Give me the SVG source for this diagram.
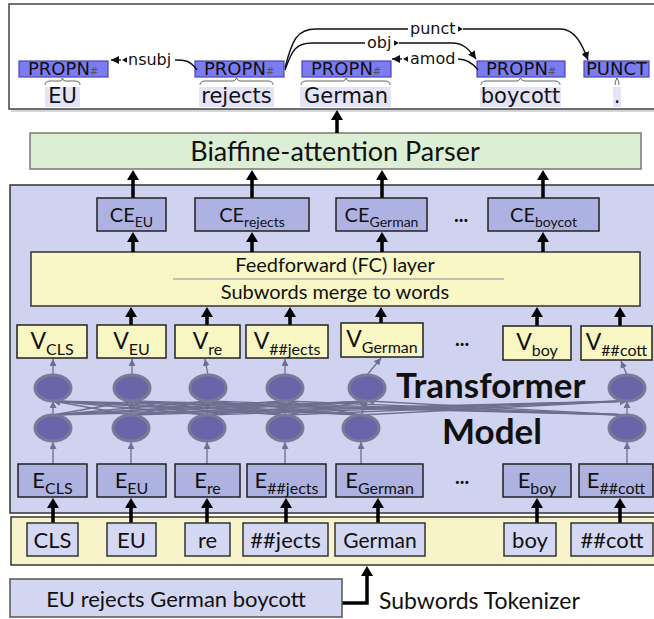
<svg xmlns="http://www.w3.org/2000/svg" width="654" height="619" viewBox="0 0 654 619">
<style>
.lato{font-family:Lato,"Open Sans","Liberation Sans",sans-serif;fill:#111}
.dj{font-family:"DejaVu Sans","Liberation Sans",sans-serif;fill:#111}
.pos{fill:#7c7cf2;stroke:#4646b4;stroke-width:1.2}
.hl{fill:#e4e4f8}
.brace{fill:none;stroke:#555;stroke-width:0.9}
.arc{fill:none;stroke:#111;stroke-width:1.4}
.ce{fill:#aeb2e3;stroke:#222;stroke-width:1.5}
.vb{fill:#f8f6c3;stroke:#222;stroke-width:1.5}
.eb{fill:#aeb2e0;stroke:#222;stroke-width:1.5}
.tk{fill:#d5d8f2;stroke:#333;stroke-width:1.5}
.thick{fill:none;stroke:#000;stroke-width:3.5}
.thin{fill:none;stroke:#6e6e90;stroke-width:1.3}
.nd{fill:#6865a8;stroke:#7a7a98;stroke-width:3}
</style>
<defs>
<marker id="big" markerUnits="userSpaceOnUse" markerWidth="12" markerHeight="12" viewBox="0 0 10 12" refX="0" refY="6" orient="auto"><path d="M0,0 L10,6 L0,12 z" fill="#000"/></marker>
<marker id="sm" markerUnits="userSpaceOnUse" markerWidth="8" markerHeight="8" viewBox="0 0 8 8" refX="8" refY="4" orient="auto"><path d="M0,0 L8,4 L0,8 z" fill="#111"/></marker>
<marker id="gr" markerUnits="userSpaceOnUse" markerWidth="7" markerHeight="7" viewBox="0 0 7 7" refX="7" refY="3.5" orient="auto"><path d="M0,0 L7,3.5 L0,7 z" fill="#6e6e90"/></marker>
</defs>

<!-- top dependency panel -->
<g id="parse-panel">
<rect x="11" y="7" width="660" height="105" fill="#bbb" opacity="0.6"/>
<rect x="9" y="4" width="660" height="105" fill="#fff" stroke="#444" stroke-width="1.5"/>
</g>
<g id="tok-EU">
<rect class="pos" x="19" y="61" width="89" height="16"/>
<text class="dj" x="28" y="75" font-size="18" fill="#1a1a40">PROPN<tspan font-size="10" fill="#555" font-style="italic">#</tspan></text>
<path class="brace" d="M45,85 Q45,81 50,81 L60,81 Q62,81 62.5,78 Q63,81 65,81 L75,81 Q80,81 80,85"/>
<rect class="hl" x="45" y="87" width="35" height="20"/>
<text class="dj" x="62.5" y="103" font-size="21" text-anchor="middle">EU</text>
</g>
<g id="tok-rejects">
<rect class="pos" x="195" y="61" width="89" height="16"/>
<text class="dj" x="204" y="75" font-size="18" fill="#1a1a40">PROPN<tspan font-size="10" fill="#555" font-style="italic">#</tspan></text>
<path class="brace" d="M200,85 Q200,81 205,81 L233,81 Q235,81 236.5,78 Q238,81 240,81 L268,81 Q273,81 273,85"/>
<rect class="hl" x="199" y="87" width="75" height="20"/>
<text class="dj" x="236.5" y="103" font-size="21" text-anchor="middle">rejects</text>
</g>
<g id="tok-German">
<rect class="pos" x="302" y="61" width="89" height="16"/>
<text class="dj" x="311" y="75" font-size="18" fill="#1a1a40">PROPN<tspan font-size="10" fill="#555" font-style="italic">#</tspan></text>
<path class="brace" d="M301,85 Q301,81 306,81 L343,81 Q345,81 346,78 Q347,81 349,81 L385,81 Q390,81 390,85"/>
<rect class="hl" x="300" y="87" width="91" height="20"/>
<text class="dj" x="346" y="103" font-size="21" text-anchor="middle">German</text>
</g>
<g id="tok-boycott">
<rect class="pos" x="477" y="61" width="88" height="16"/>
<text class="dj" x="486" y="75" font-size="18" fill="#1a1a40">PROPN<tspan font-size="10" fill="#555" font-style="italic">#</tspan></text>
<path class="brace" d="M481,85 Q481,81 486,81 L517,81 Q519,81 520.5,78 Q522,81 524,81 L555,81 Q560,81 560,85"/>
<rect class="hl" x="480" y="87" width="81" height="20"/>
<text class="dj" x="520.5" y="103" font-size="21" text-anchor="middle">boycott</text>
</g>
<g id="tok-punct">
<rect class="pos" x="584" y="61" width="65" height="16"/>
<text class="dj" x="616.5" y="75" font-size="18" fill="#1a1a40" text-anchor="middle">PUNCT</text>
<path class="brace" d="M615,85 Q615,81 617,78 Q619,81 619,85"/>
<rect class="hl" x="613" y="87" width="8" height="20"/>
<text class="dj" x="617" y="103" font-size="21" text-anchor="middle">.</text>
</g>

<g id="arcs">
<path class="arc" d="M197,70 C190,60 184,60 175,60"/>
<text class="dj" x="128" y="65" font-size="16">nsubj</text>
<polygon points="122,60 127,57.3 127,62.7" fill="#111"/>
<path class="arc" d="M121,60 L111,60" marker-end="url(#sm)"/>

<path class="arc" d="M285,70 C292,50 296,43 312,43 L365,43"/>
<text class="dj" x="367" y="48" font-size="16">obj</text>
<polygon points="394,40.3 399,43 394,45.7" fill="#111"/>
<path class="arc" d="M399,43 L452,43 C463,43 469,49 476,59" marker-end="url(#sm)"/>

<path class="arc" d="M285,68 C292,40 297,29 316,29 L408,29"/>
<text class="dj" x="410" y="34" font-size="16">punct</text>
<polygon points="458,26.3 463,29 458,31.7" fill="#111"/>
<path class="arc" d="M463,29 L560,29 C575,29 582,44 588,60" marker-end="url(#sm)"/>

<path class="arc" d="M478,70 C472,62 466,59 458,59"/>
<text class="dj" x="410" y="64" font-size="16">amod</text>
<polygon points="403,59 408,56.3 408,61.7" fill="#111"/>
<path class="arc" d="M402,59 L392,59" marker-end="url(#sm)"/>
</g>

<!-- main panels -->
<g id="biaffine">
<rect x="30" y="133" width="611" height="36" fill="#dcefd5" stroke="#777" stroke-width="1.5"/>
<text class="lato" x="335" y="161" font-size="27" text-anchor="middle">Biaffine-attention Parser</text>
</g>
<g id="transformer-panel">
<rect x="10" y="185" width="660" height="328" fill="#cfd3ef" stroke="#333" stroke-width="1.5"/>
<text class="lato" x="396" y="398" font-size="35" font-weight="bold" fill="#000">Transformer</text>
<text class="lato" x="442" y="444" font-size="35" font-weight="bold" fill="#000">Model</text>
</g>
<g id="token-band">
<rect x="11" y="517" width="660" height="48" fill="#f7f4c9" stroke="#333" stroke-width="1.5"/>
</g>
<g id="fc-layer">
<rect x="31" y="252" width="609" height="54" fill="#f9f7c6" stroke="#333" stroke-width="1.5"/>
<text class="lato" x="335" y="272" font-size="20" text-anchor="middle">Feedforward (FC) layer</text>
<line x1="173" y1="279" x2="504" y2="279" stroke="#8a8aa8" stroke-width="1"/>
<text class="lato" x="335" y="299" font-size="20" text-anchor="middle">Subwords merge to words</text>
</g>

<!-- connectors -->
<g id="connectors">
<path class="thick" d="M337,133 V120" marker-end="url(#big)"/>
<path class="thick" d="M133,198 V180" marker-end="url(#big)"/>
<path class="thick" d="M252,198 V180" marker-end="url(#big)"/>
<path class="thick" d="M382,198 V180" marker-end="url(#big)"/>
<path class="thick" d="M543,198 V180" marker-end="url(#big)"/>
<path class="thick" d="M133,252 V242" marker-end="url(#big)"/>
<path class="thick" d="M252,252 V242" marker-end="url(#big)"/>
<path class="thick" d="M382,252 V242" marker-end="url(#big)"/>
<path class="thick" d="M543,252 V242" marker-end="url(#big)"/>
<path class="thick" d="M131,325 V317" marker-end="url(#big)"/>
<path class="thick" d="M207,325 V317" marker-end="url(#big)"/>
<path class="thick" d="M290,325 V317" marker-end="url(#big)"/>
<path class="thick" d="M381,323 V317" marker-end="url(#big)"/>
<path class="thick" d="M537,326 V317" marker-end="url(#big)"/>
<path class="thick" d="M620,326 V317" marker-end="url(#big)"/>
<path class="thick" d="M53,523 V508" marker-end="url(#big)"/>
<path class="thick" d="M131,523 V508" marker-end="url(#big)"/>
<path class="thick" d="M207,523 V508" marker-end="url(#big)"/>
<path class="thick" d="M286,523 V508" marker-end="url(#big)"/>
<path class="thick" d="M378,523 V508" marker-end="url(#big)"/>
<path class="thick" d="M537,523 V508" marker-end="url(#big)"/>
<path class="thick" d="M620,523 V508" marker-end="url(#big)"/>
<path class="thick" d="M342,603 H367 V576" marker-end="url(#big)"/>

<!-- thin transformer arrows -->
<path class="thin" d="M53,464 V442" marker-end="url(#gr)"/>
<path class="thin" d="M131,464 V442" marker-end="url(#gr)"/>
<path class="thin" d="M207,464 V442" marker-end="url(#gr)"/>
<path class="thin" d="M285,464 V442" marker-end="url(#gr)"/>
<path class="thin" d="M361,464 V442" marker-end="url(#gr)"/>
<path class="thin" d="M627,464 V442" marker-end="url(#gr)"/>
<path class="thin" d="M53,375 V359" marker-end="url(#gr)"/>
<path class="thin" d="M132,375 V359" marker-end="url(#gr)"/>
<path class="thin" d="M208,375 L205,359" marker-end="url(#gr)"/>
<path class="thin" d="M285,375 V359" marker-end="url(#gr)"/>
<path class="thin" d="M367,375 L381,358" marker-end="url(#gr)"/>
<path class="thin" d="M627,375 L621,361" marker-end="url(#gr)"/>
<!-- lower to upper (all pairs) -->
<path class="thin" d="M53,415 L53,401" marker-end="url(#gr)"/>
<path class="thin" d="M53,415 L132,401" marker-end="url(#gr)"/>
<path class="thin" d="M53,415 L208,401" marker-end="url(#gr)"/>
<path class="thin" d="M53,415 L285,401" marker-end="url(#gr)"/>
<path class="thin" d="M53,415 L367,401" marker-end="url(#gr)"/>
<path class="thin" d="M53,415 L627,401" marker-end="url(#gr)"/>
<path class="thin" d="M131,415 L53,401" marker-end="url(#gr)"/>
<path class="thin" d="M131,415 L132,401" marker-end="url(#gr)"/>
<path class="thin" d="M131,415 L208,401" marker-end="url(#gr)"/>
<path class="thin" d="M131,415 L285,401" marker-end="url(#gr)"/>
<path class="thin" d="M131,415 L367,401" marker-end="url(#gr)"/>
<path class="thin" d="M131,415 L627,401" marker-end="url(#gr)"/>
<path class="thin" d="M207,415 L53,401" marker-end="url(#gr)"/>
<path class="thin" d="M207,415 L132,401" marker-end="url(#gr)"/>
<path class="thin" d="M207,415 L208,401" marker-end="url(#gr)"/>
<path class="thin" d="M207,415 L285,401" marker-end="url(#gr)"/>
<path class="thin" d="M207,415 L367,401" marker-end="url(#gr)"/>
<path class="thin" d="M207,415 L627,401" marker-end="url(#gr)"/>
<path class="thin" d="M285,415 L53,401" marker-end="url(#gr)"/>
<path class="thin" d="M285,415 L132,401" marker-end="url(#gr)"/>
<path class="thin" d="M285,415 L208,401" marker-end="url(#gr)"/>
<path class="thin" d="M285,415 L285,401" marker-end="url(#gr)"/>
<path class="thin" d="M285,415 L367,401" marker-end="url(#gr)"/>
<path class="thin" d="M285,415 L627,401" marker-end="url(#gr)"/>
<path class="thin" d="M361,415 L53,401" marker-end="url(#gr)"/>
<path class="thin" d="M361,415 L132,401" marker-end="url(#gr)"/>
<path class="thin" d="M361,415 L208,401" marker-end="url(#gr)"/>
<path class="thin" d="M361,415 L285,401" marker-end="url(#gr)"/>
<path class="thin" d="M361,415 L367,401" marker-end="url(#gr)"/>
<path class="thin" d="M361,415 L627,401" marker-end="url(#gr)"/>
<path class="thin" d="M627,415 L53,401" marker-end="url(#gr)"/>
<path class="thin" d="M627,415 L132,401" marker-end="url(#gr)"/>
<path class="thin" d="M627,415 L208,401" marker-end="url(#gr)"/>
<path class="thin" d="M627,415 L285,401" marker-end="url(#gr)"/>
<path class="thin" d="M627,415 L367,401" marker-end="url(#gr)"/>
<path class="thin" d="M627,415 L627,401" marker-end="url(#gr)"/>
</g>

<!-- transformer neurons -->
<g id="neurons">
<ellipse class="nd" cx="53" cy="388" rx="18" ry="13"/>
<ellipse class="nd" cx="132" cy="388" rx="18" ry="13"/>
<ellipse class="nd" cx="208" cy="388" rx="18" ry="13"/>
<ellipse class="nd" cx="285" cy="388" rx="18" ry="13"/>
<ellipse class="nd" cx="367" cy="388" rx="18" ry="13"/>
<ellipse class="nd" cx="627" cy="388" rx="18" ry="13"/>
<ellipse class="nd" cx="53" cy="428" rx="18" ry="13"/>
<ellipse class="nd" cx="131" cy="428" rx="18" ry="13"/>
<ellipse class="nd" cx="207" cy="428" rx="18" ry="13"/>
<ellipse class="nd" cx="285" cy="428" rx="18" ry="13"/>
<ellipse class="nd" cx="361" cy="428" rx="18" ry="13"/>
<ellipse class="nd" cx="627" cy="428" rx="18" ry="13"/>
</g>

<!-- CE boxes -->
<g id="ce-EU"><rect class="ce" x="97" y="198" width="69" height="33"/><text class="lato" x="131.5" y="222" font-size="20" text-anchor="middle">CE<tspan font-size="14" dy="5">EU</tspan></text></g>
<g id="ce-rejects"><rect class="ce" x="195" y="198" width="114" height="33"/><text class="lato" x="252" y="222" font-size="20" text-anchor="middle">CE<tspan font-size="14" dy="5">rejects</tspan></text></g>
<g id="ce-German"><rect class="ce" x="336" y="198" width="91" height="33"/><text class="lato" x="381.5" y="222" font-size="20" text-anchor="middle">CE<tspan font-size="14" dy="5">German</tspan></text></g>
<g id="ce-dots"><text class="lato" x="461" y="222" font-size="20" font-weight="bold" text-anchor="middle">...</text></g>
<g id="ce-boycot"><rect class="ce" x="488" y="198" width="111" height="33"/><text class="lato" x="543.5" y="222" font-size="20" text-anchor="middle">CE<tspan font-size="14" dy="5">boycot</tspan></text></g>

<!-- V boxes -->
<g id="v-CLS"><rect class="vb" x="17" y="325" width="70" height="33"/><text class="lato" x="52" y="349" font-size="23" text-anchor="middle">V<tspan font-size="16" dy="6">CLS</tspan></text></g>
<g id="v-EU"><rect class="vb" x="97" y="325" width="69" height="33"/><text class="lato" x="131.5" y="349" font-size="23" text-anchor="middle">V<tspan font-size="16" dy="6">EU</tspan></text></g>
<g id="v-re"><rect class="vb" x="175" y="325" width="65" height="33"/><text class="lato" x="207.5" y="349" font-size="23" text-anchor="middle">V<tspan font-size="16" dy="6">re</tspan></text></g>
<g id="v-jects"><rect class="vb" x="246" y="325" width="82" height="33"/><text class="lato" x="287" y="349" font-size="23" text-anchor="middle">V<tspan font-size="16" dy="6">##jects</tspan></text></g>
<g id="v-German"><rect class="vb" x="341" y="323" width="82" height="34"/><text class="lato" x="382" y="347" font-size="23" text-anchor="middle">V<tspan font-size="16" dy="6">German</tspan></text></g>
<g id="v-dots"><text class="lato" x="462" y="346" font-size="20" font-weight="bold" text-anchor="middle">...</text></g>
<g id="v-boy"><rect class="vb" x="503" y="326" width="68" height="34"/><text class="lato" x="537" y="350" font-size="23" text-anchor="middle">V<tspan font-size="16" dy="6">boy</tspan></text></g>
<g id="v-cott"><rect class="vb" x="581" y="326" width="71" height="34"/><text class="lato" x="616.5" y="350" font-size="23" text-anchor="middle">V<tspan font-size="16" dy="6">##cott</tspan></text></g>

<!-- E boxes -->
<g id="e-CLS"><rect class="eb" x="18" y="464" width="69" height="33"/><text class="lato" x="52.5" y="488" font-size="22" text-anchor="middle">E<tspan font-size="16" dy="6">CLS</tspan></text></g>
<g id="e-EU"><rect class="eb" x="97" y="464" width="69" height="33"/><text class="lato" x="131.5" y="488" font-size="22" text-anchor="middle">E<tspan font-size="16" dy="6">EU</tspan></text></g>
<g id="e-re"><rect class="eb" x="175" y="464" width="65" height="33"/><text class="lato" x="207.5" y="488" font-size="22" text-anchor="middle">E<tspan font-size="16" dy="6">re</tspan></text></g>
<g id="e-jects"><rect class="eb" x="247" y="464" width="79" height="33"/><text class="lato" x="286.5" y="488" font-size="22" text-anchor="middle">E<tspan font-size="16" dy="6">##jects</tspan></text></g>
<g id="e-German"><rect class="eb" x="336" y="464" width="87" height="33"/><text class="lato" x="379.5" y="488" font-size="22" text-anchor="middle">E<tspan font-size="16" dy="6">German</tspan></text></g>
<g id="e-dots"><text class="lato" x="462" y="484" font-size="20" font-weight="bold" text-anchor="middle">...</text></g>
<g id="e-boy"><rect class="eb" x="503" y="464" width="68" height="33"/><text class="lato" x="537" y="488" font-size="22" text-anchor="middle">E<tspan font-size="16" dy="6">boy</tspan></text></g>
<g id="e-cott"><rect class="eb" x="579" y="464" width="74" height="33"/><text class="lato" x="616" y="488" font-size="22" text-anchor="middle">E<tspan font-size="16" dy="6">##cott</tspan></text></g>

<!-- token boxes -->
<g id="t-CLS"><rect class="tk" x="27" y="523" width="51" height="33"/><text class="lato" x="52.5" y="548" font-size="22" text-anchor="middle">CLS</text></g>
<g id="t-EU"><rect class="tk" x="107" y="523" width="49" height="33"/><text class="lato" x="131.5" y="548" font-size="22" text-anchor="middle">EU</text></g>
<g id="t-re"><rect class="tk" x="185" y="523" width="45" height="33"/><text class="lato" x="207.5" y="548" font-size="22" text-anchor="middle">re</text></g>
<g id="t-jects"><rect class="tk" x="243" y="523" width="85" height="33"/><text class="lato" x="285.5" y="548" font-size="22" text-anchor="middle">##jects</text></g>
<g id="t-German"><rect class="tk" x="335" y="523" width="90" height="33"/><text class="lato" x="380" y="548" font-size="21" text-anchor="middle">German</text></g>
<g id="t-boy"><rect class="tk" x="504" y="523" width="52" height="33"/><text class="lato" x="530" y="548" font-size="22" text-anchor="middle">boy</text></g>
<g id="t-cott"><rect class="tk" x="571" y="523" width="82" height="33"/><text class="lato" x="612" y="548" font-size="22" text-anchor="middle">##cott</text></g>

<g id="sentence"><rect x="10" y="579" width="332" height="38" fill="#d3d6f0" stroke="#555" stroke-width="1.5"/><text class="lato" x="176" y="607" font-size="22" text-anchor="middle">EU rejects German boycott</text></g>
<g id="tokenizer-label"><text class="lato" x="379" y="609" font-size="23">Subwords Tokenizer</text></g>
</svg>
